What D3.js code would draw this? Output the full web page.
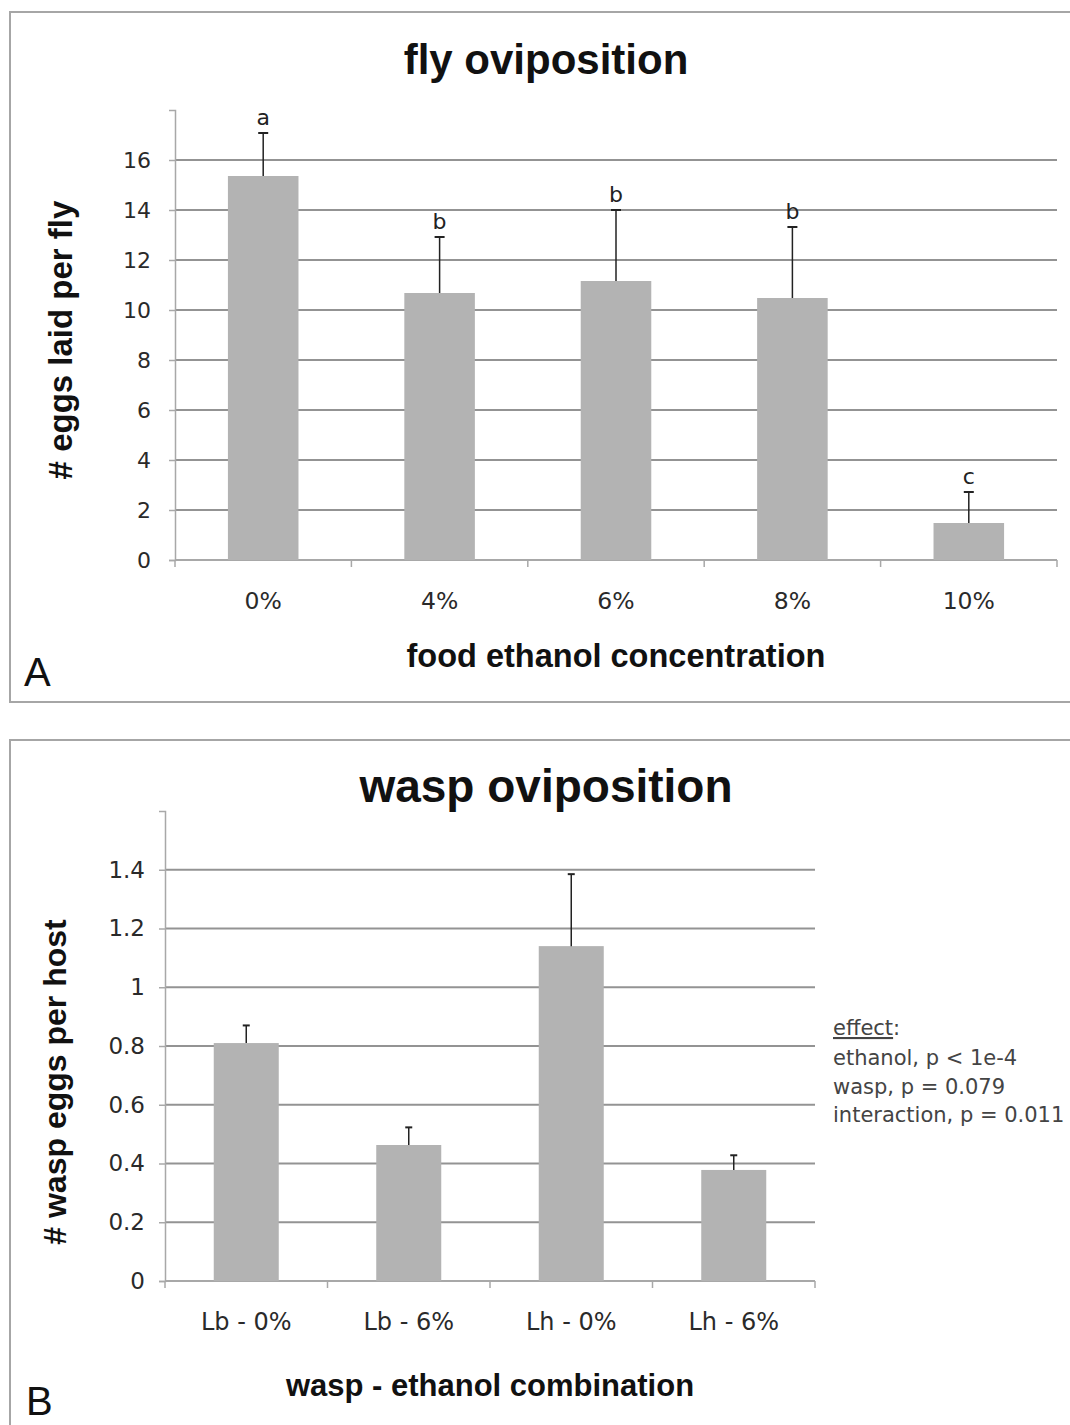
<!DOCTYPE html>
<html>
<head>
<meta charset="utf-8">
<script src="https://cdn.jsdelivr.net/npm/d3@7/dist/d3.min.js"></script>
<style>
  html, body { margin: 0; padding: 0; background: #fff; }
  svg { display: block; }
  .tick text { font-family: "DejaVu Sans", sans-serif; fill: #2a2a2a; }
</style>
</head>
<body>
<svg id="fig" width="1070" height="1425"></svg>
<script>
// Panel A: fly oviposition by food ethanol concentration
const concentrations = ["0%", "4%", "6%", "8%", "10%"];
const flyEggs = [15.36, 10.68, 11.16, 10.48, 1.48];
const flyErr = [1.72, 2.24, 2.84, 2.84, 1.24];
const flyGroups = ["a", "b", "b", "b", "c"];
const flyTicks = [0, 2, 4, 6, 8, 10, 12, 14, 16];

// Panel B: wasp oviposition by wasp/ethanol combination
const combos = ["Lb - 0%", "Lb - 6%", "Lh - 0%", "Lh - 6%"];
const waspEggs = [0.81, 0.463, 1.14, 0.378];
const waspErr = [0.06, 0.06, 0.245, 0.05];
const waspTicks = [0, 0.2, 0.4, 0.6, 0.8, 1, 1.2, 1.4];
const effectLines = ["ethanol, p < 1e-4", "wasp, p = 0.079", "interaction, p = 0.011"];

const svg = d3.select("#fig");
svg.append("rect").attr("width", 1070).attr("height", 1425).attr("fill", "#fff");

const BAR = "#b3b3b3", GRID = "#939393", AXIS = "#a8a8a8", ERR = "#222";
const BOLD = "'Liberation Sans', Arial, sans-serif";

function panel(cfg) {
  const g = svg.append("g");
  // panel frame
  g.append("rect")
    .attr("x", cfg.frame[0]).attr("y", cfg.frame[1])
    .attr("width", cfg.frame[2]).attr("height", cfg.frame[3])
    .attr("fill", "none").attr("stroke", "#a6a6a6").attr("stroke-width", 2);

  const x = d3.scaleBand().domain(cfg.cats).range([cfg.x0, cfg.x1]).paddingInner(0.6).paddingOuter(0.3);
  const xb = d3.scaleBand().domain(cfg.cats).range([cfg.x0, cfg.x1]);
  const y = d3.scaleLinear().domain([0, cfg.ymax]).range([cfg.y0, cfg.y1]);

  // horizontal gridlines
  g.append("g").selectAll("line").data(cfg.ticks.filter(d => d > 0)).join("line")
    .attr("x1", cfg.x0).attr("x2", cfg.x1)
    .attr("y1", d => y(d)).attr("y2", d => y(d))
    .attr("stroke", GRID).attr("stroke-width", 2);

  // y axis
  const ya = g.append("g").attr("transform", `translate(${cfg.x0},0)`)
    .call(d3.axisLeft(y).tickValues(cfg.ticks).tickSize(6).tickPadding(cfg.tickPadY).tickFormat(d3.format("")));
  ya.select(".domain").attr("stroke", AXIS).attr("stroke-width", 1.5);
  ya.selectAll(".tick line").attr("stroke", AXIS).attr("stroke-width", 1.5);
  ya.selectAll(".tick text").style("font-size", cfg.yTickFont + "px");

  // x axis: ticks at category boundaries
  const xa = g.append("g").attr("transform", `translate(0,${cfg.y0})`);
  xa.append("line").attr("x1", cfg.x0).attr("x2", cfg.x1).attr("y1", 0).attr("y2", 0)
    .attr("stroke", AXIS).attr("stroke-width", 2);
  xa.selectAll(".bt").data(cfg.cats.concat(["__end"])).join("line").attr("class", "bt")
    .attr("x1", (d, i) => i < cfg.cats.length ? xb(d) : cfg.x1)
    .attr("x2", (d, i) => i < cfg.cats.length ? xb(d) : cfg.x1)
    .attr("y1", 0).attr("y2", 7).attr("stroke", AXIS).attr("stroke-width", 1.5);
  xa.selectAll("text").data(cfg.cats).join("text")
    .attr("x", d => xb(d) + xb.bandwidth() / 2).attr("y", cfg.xLabelDy)
    .attr("text-anchor", "middle")
    .style("font-family", "'DejaVu Sans', sans-serif").style("font-size", cfg.xTickFont + "px")
    .attr("fill", "#2a2a2a").text(d => d);

  // bars
  g.append("g").selectAll("rect").data(cfg.vals).join("rect")
    .attr("x", (d, i) => x(cfg.cats[i])).attr("width", x.bandwidth())
    .attr("y", d => y(d)).attr("height", d => y(0) - y(d))
    .attr("fill", BAR);

  // error bars (upper half)
  const eb = g.append("g").attr("stroke", ERR).attr("stroke-width", 1.5);
  cfg.vals.forEach((v, i) => {
    const cx = x(cfg.cats[i]) + x.bandwidth() / 2;
    const top = y(v + cfg.errs[i]);
    eb.append("line").attr("x1", cx).attr("x2", cx).attr("y1", y(v)).attr("y2", top);
    eb.append("line").attr("x1", cx - cfg.cap).attr("x2", cx + cfg.cap).attr("y1", top).attr("y2", top).attr("stroke-width", 2);
  });

  // group letters
  if (cfg.groups) {
    g.append("g").selectAll("text").data(cfg.groups).join("text")
      .attr("x", (d, i) => x(cfg.cats[i]) + x.bandwidth() / 2)
      .attr("y", (d, i) => y(cfg.vals[i] + cfg.errs[i]) - 8)
      .attr("text-anchor", "middle")
      .style("font-family", "'DejaVu Sans', sans-serif").style("font-size", "22px")
      .attr("fill", "#222").text(d => d);
  }

  // titles and labels
  g.append("text").attr("x", cfg.titleX).attr("y", cfg.titleY).attr("text-anchor", "middle")
    .style("font-family", BOLD).style("font-weight", "bold").style("font-size", cfg.titleFont + "px")
    .attr("fill", "#111").text(cfg.title);
  g.append("text").attr("x", (cfg.x0 + cfg.x1) / 2).attr("y", cfg.xTitleY).attr("text-anchor", "middle")
    .style("font-family", BOLD).style("font-weight", "bold").style("font-size", cfg.xTitleFont + "px")
    .attr("fill", "#111").text(cfg.xTitle);
  g.append("text").attr("transform", `translate(${cfg.yTitleX},${cfg.yTitleY}) rotate(-90)`)
    .attr("text-anchor", "middle")
    .style("font-family", BOLD).style("font-weight", "bold").style("font-size", cfg.yTitleFont + "px")
    .attr("fill", "#111").text(cfg.yTitle);
  g.append("text").attr("x", cfg.letterX).attr("y", cfg.letterY)
    .style("font-family", "'Liberation Sans', Arial, sans-serif").style("font-size", "40px")
    .attr("fill", "#111").text(cfg.letter);
  return { x, y };
}

panel({
  frame: [10, 12, 1080, 690],
  cats: concentrations, vals: flyEggs, errs: flyErr, groups: flyGroups,
  ticks: flyTicks, ymax: 18,
  x0: 175, x1: 1057, y0: 560, y1: 110,
  tickPadY: 18, yTickFont: 22, xTickFont: 23.5, xLabelDy: 49, cap: 5,
  title: "fly oviposition", titleX: 546, titleY: 74, titleFont: 42,
  xTitle: "food ethanol concentration", xTitleY: 667, xTitleFont: 32.5,
  yTitle: "# eggs laid per fly", yTitleX: 72, yTitleY: 340, yTitleFont: 33,
  letter: "A", letterX: 24, letterY: 686
});

panel({
  frame: [10, 740, 1080, 700],
  cats: combos, vals: waspEggs, errs: waspErr, groups: null,
  ticks: waspTicks, ymax: 1.6,
  x0: 165, x1: 815, y0: 1281, y1: 811,
  tickPadY: 14, yTickFont: 23, xTickFont: 24, xLabelDy: 49, cap: 3.5,
  title: "wasp oviposition", titleX: 546, titleY: 802, titleFont: 46,
  xTitle: "wasp - ethanol combination", xTitleY: 1396, xTitleFont: 31,
  yTitle: "# wasp eggs  per host", yTitleX: 66, yTitleY: 1082, yTitleFont: 32,
  letter: "B", letterX: 26, letterY: 1415
});

// statistics note beside panel B
const note = svg.append("text").attr("x", 833).attr("y", 1035)
  .style("font-family", "'DejaVu Sans', sans-serif").style("font-size", "21px").attr("fill", "#444");
note.append("tspan").style("text-decoration", "underline").text("effect");
note.append("tspan").text(":");
effectLines.forEach((t, i) => {
  svg.append("text").attr("x", 833).attr("y", 1065 + i * 28.5)
    .style("font-family", "'DejaVu Sans', sans-serif").style("font-size", "21px")
    .attr("fill", "#444").text(t);
});
</script>
</body>
</html>
